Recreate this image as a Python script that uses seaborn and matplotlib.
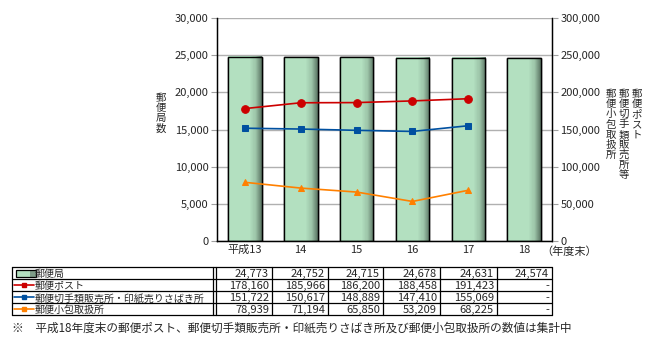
import numpy as np
import pandas as pd
import matplotlib
matplotlib.use("Agg")
import matplotlib.pyplot as plt
from matplotlib.patches import Rectangle
from matplotlib.colors import LinearSegmentedColormap
import seaborn as sns

# ---------------- data ----------------
years = ["平成13", "14", "15", "16", "17", "18"]
offices = [24773, 24752, 24715, 24678, 24631, 24574]
posts = [178160, 185966, 186200, 188458, 191423]
stamp_shops = [151722, 150617, 148889, 147410, 155069]
parcel_shops = [78939, 71194, 65850, 53209, 68225]
series_names = ["郵便局", "郵便ポスト", "郵便切手類販売所・印紙売りさばき所", "郵便小包取扱所"]
left_label = "郵便局数"
right_labels = ["郵便ポスト", "郵便切手類販売所等", "郵便小包取扱所"]
unit_label = "（年度末）"
footnote = "※　平成18年度末の郵便ポスト、郵便切手類販売所・印紙売りさばき所及び郵便小包取扱所の数値は集計中"

sns.set_style("white")
plt.rcParams['font.family'] = ['Noto Sans CJK JP', 'DejaVu Sans']

W, H = 653, 345
fig = plt.figure(figsize=(W / 100, H / 100), dpi=100)

def fx(px):
    return px / W

def fy(py):
    return 1 - py / H

GREEN = "#b3e0c0"
RED = "#cc0000"
BLUE = "#0050a0"
ORANGE = "#ff8000"
FS = 8

x0, x1, ytop, ybot = 217, 552, 18, 241
ax = fig.add_axes([fx(x0), fy(ybot), fx(x1 - x0), (ybot - ytop) / H])

df = pd.DataFrame({"year": years, "offices": offices})
sns.barplot(data=df, x="year", y="offices", ax=ax, color=GREEN, width=0.6,
            edgecolor="black", linewidth=1.0, saturation=1, zorder=2)
ax.set_xlim(-0.5, len(years) - 0.5)
ax.set_ylim(0, 30000)
ax.set_yticks(np.arange(0, 30001, 5000))
ax.set_yticklabels([f"{v:,}" for v in range(0, 30001, 5000)], fontsize=FS)
ax.set_xlabel("")
ax.set_ylabel("")
ax.tick_params(axis="x", length=0, labelsize=FS, pad=3)
ax.set_xticks(np.arange(-0.5, len(years) - 0.4, 1.0), minor=True)
ax.tick_params(axis="x", which="minor", direction="in", length=3, color="black", width=0.8)
ax.tick_params(axis="y", direction="out", length=4, color="#a0a0a0", pad=2)
ax.yaxis.grid(True, color="#b0b0b0", linewidth=1.0, zorder=0)
ax.set_axisbelow(True)
for s in ["left", "bottom", "right"]:
    ax.spines[s].set_visible(True)
    ax.spines[s].set_color("black")
    ax.spines[s].set_linewidth(1.0)
ax.spines["top"].set_visible(False)

# gradient shading on bars (light face, darker right edge)
cmap = LinearSegmentedColormap.from_list(
    "barshade", [(0, GREEN), (0.64, GREEN), (0.82, "#9cc4a8"), (1.0, "#5e7866")])
grad = np.linspace(0, 1, 64).reshape(1, -1)
for p in list(ax.patches):
    bx, by, bw, bh = p.get_x(), p.get_y(), p.get_width(), p.get_height()
    ax.imshow(grad, cmap=cmap, aspect="auto", extent=[bx, bx + bw, by, by + bh],
              zorder=2.1, interpolation="nearest")
    ax.add_patch(Rectangle((bx, by), bw, bh, fill=False, edgecolor="black",
                           linewidth=1.0, zorder=2.2))
ax.set_xlim(-0.5, len(years) - 0.5)
ax.set_ylim(0, 30000)

ax2 = ax.twinx()
xs = np.arange(len(posts))
line_specs = [(posts, RED, "o", 5.5), (stamp_shops, BLUE, "s", 5), (parcel_shops, ORANGE, "^", 5)]
for vals, col, mk, ms in line_specs:
    sns.lineplot(x=xs, y=vals, ax=ax2, color=col, marker=mk, markersize=ms,
                 markeredgecolor=col, linewidth=1.2, zorder=5)
ax2.set_ylim(0, 300000)
ax2.set_yticks(np.arange(0, 300001, 50000))
ax2.set_yticklabels([f"{v:,}" for v in range(0, 300001, 50000)], fontsize=FS)
ax2.tick_params(axis="y", direction="out", length=4, color="#a0a0a0", pad=2)
ax2.set_ylabel("")
ax2.spines["top"].set_visible(False)
for s in ["right", "left", "bottom"]:
    ax2.spines[s].set_color("black")

# axis labels (vertical stacked text)
def vtext(x, y, s):
    fig.text(fx(x), fy(y), "\n".join(s), ha="center", va="top", fontsize=7.5,
             linespacing=1.02)

vtext(161, 93, left_label)
vtext(637, 89, right_labels[0])
vtext(624, 89, right_labels[1])
vtext(611, 89, right_labels[2])
fig.text(fx(541), fy(251), unit_label, ha="left", va="center_baseline", fontsize=FS)

# ---------------- table ----------------
tx0, tx1, ty0, ty1 = 12, 552, 267, 315
tab = fig.add_axes([fx(tx0), fy(ty1), fx(tx1 - tx0), (ty1 - ty0) / H])
tab.set_xlim(tx0, tx1)
tab.set_ylim(ty1, ty0)
tab.axis("off")
col_edges = [216, 272, 328, 383, 440, 497, 552]
nrows = 4
row_h = (ty1 - ty0) / nrows
lw = 0.9
for i in range(nrows + 1):
    tab.plot([tx0, tx1], [ty0 + i * row_h] * 2, color="black", lw=lw, clip_on=False)
tab.plot([tx0, tx0], [ty0, ty1], color="black", lw=lw, clip_on=False)
tab.plot([213, 213], [ty0, ty1], color="black", lw=lw, clip_on=False)
for ce in col_edges:
    tab.plot([ce, ce], [ty0, ty1], color="black", lw=lw, clip_on=False)

rows = [offices, posts, stamp_shops, parcel_shops]
for r, vals in enumerate(rows):
    yc = ty0 + (r + 0.5) * row_h + 0.3
    for c in range(len(years)):
        txt = f"{vals[c]:,}" if c < len(vals) else "-"
        tab.text(col_edges[c + 1] - 3, yc, txt, ha="right", va="center_baseline",
                 fontsize=FS)
    if r == 0:
        tab.add_patch(Rectangle((16, yc - 3.5), 20, 7, facecolor=GREEN,
                                edgecolor="none"))
        tab.add_patch(Rectangle((30, yc - 3.5), 6, 7, facecolor="#7e9c88",
                                edgecolor="none"))
        tab.add_patch(Rectangle((16, yc - 3.5), 20, 7, fill=False,
                                edgecolor="black", lw=0.9))
    else:
        col = line_specs[r - 1][1]
        tab.plot([14, 34], [yc, yc], color=col, lw=1.2)
        tab.plot([24], [yc], color=col, marker="s", markersize=3.5)
    tab.text(35, yc, series_names[r], ha="left", va="center_baseline", fontsize=7.2)

fig.text(fx(12), fy(327), footnote, ha="left", va="center_baseline", fontsize=8.4)

fig.savefig("out.png", dpi=100)
